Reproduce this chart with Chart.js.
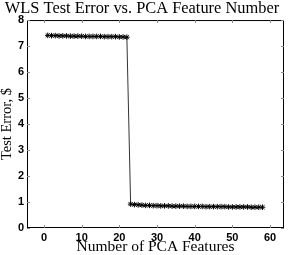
<!DOCTYPE html>
<html>
<head>
<meta charset="utf-8">
<script src="https://cdn.jsdelivr.net/npm/chart.js@4"></script>
<style>
  html, body { margin: 0; padding: 0; background: #fff; }
  #wrap { width: 291px; height: 255px; }
</style>
</head>
<body>
<div id="wrap"><canvas id="myChart"></canvas></div>
<script>
// data
const featureCounts = [];
for (let n = 1; n <= 58; n++) featureCounts.push(n);

const testErrors = [
  7.41, 7.40, 7.40, 7.39, 7.39, 7.39, 7.38, 7.38, 7.38, 7.38,
  7.37, 7.37, 7.37, 7.37, 7.37, 7.36, 7.36, 7.36, 7.36, 7.35,
  7.35, 7.34,
  0.92, 0.90, 0.89, 0.88, 0.87, 0.87, 0.86, 0.86, 0.85, 0.85,
  0.85, 0.84, 0.84, 0.84, 0.84, 0.83, 0.83, 0.83, 0.83, 0.83,
  0.82, 0.82, 0.82, 0.82, 0.82, 0.82, 0.81, 0.81, 0.81, 0.81,
  0.81, 0.81, 0.80, 0.80, 0.80, 0.80
];

const xTicks = [0, 10, 20, 30, 40, 50, 60];
const yTicks = [0, 1, 2, 3, 4, 5, 6, 7, 8];

const serif = '"Liberation Serif", "DejaVu Serif", serif';
const sans = '"Liberation Sans", Arial, sans-serif';

// box round the plot and matlab style inward ticks
const boxPlugin = {
  id: 'box',
  afterDraw(chart) {
    const ctx = chart.ctx;
    const a = chart.chartArea;
    const xs = chart.scales.x;
    const ys = chart.scales.y;
    ctx.save();
    ctx.strokeStyle = '#000';
    ctx.lineWidth = 1;
    ctx.strokeRect(a.left + 0.5, a.top + 0.5, a.right - a.left - 1, a.bottom - a.top - 1);
    ctx.strokeStyle = '#888';
    ctx.beginPath();
    xTicks.forEach(function (t) {
      const px = Math.round(xs.getPixelForValue(t)) + 0.5;
      ctx.moveTo(px, a.bottom); ctx.lineTo(px, a.bottom - 3);
      ctx.moveTo(px, a.top); ctx.lineTo(px, a.top + 3);
    });
    yTicks.forEach(function (t) {
      const py = Math.round(ys.getPixelForValue(t)) + 0.5;
      ctx.moveTo(a.left, py); ctx.lineTo(a.left + 3, py);
      ctx.moveTo(a.right, py); ctx.lineTo(a.right - 3, py);
    });
    ctx.stroke();
    ctx.restore();
  }
};

function initializeChart() {
  const ctx = document.getElementById('myChart').getContext('2d');
  const points = featureCounts.map(function (n, i) { return { x: n, y: testErrors[i] }; });

  return new Chart(ctx, {
    type: 'line',
    data: {
      datasets: [{
        label: 'Test Error',
        data: points,
        borderColor: '#333',
        borderWidth: 1,
        backgroundColor: 'transparent',
        pointStyle: 'star',
        pointRadius: 2.8,
        pointBorderColor: '#000',
        pointBorderWidth: 1,
        tension: 0
      }]
    },
    options: {
      responsive: true,
      maintainAspectRatio: false,
      animation: false,
      layout: { padding: { left: 0, right: 7, top: 0, bottom: 0 } },
      plugins: {
        legend: { display: false },
        tooltip: { enabled: false },
        title: {
          display: true,
          text: 'WLS Test Error vs. PCA Feature Number',
          color: '#000',
          font: { family: serif, size: 16.4, weight: 'normal', lineHeight: 1.1 },
          padding: { top: 0, bottom: 2 }
        }
      },
      scales: {
        x: {
          type: 'linear',
          min: -4.5,
          max: 63.7,
          afterBuildTicks: function (s) { s.ticks = xTicks.map(function (v) { return { value: v }; }); },
          afterFit: function (s) { s.height = 27; },
          grid: { display: false, drawTicks: false },
          border: { display: false },
          ticks: {
            color: '#000',
            padding: 3,
            maxRotation: 0,
            font: { family: sans, size: 11, weight: 'bold' }
          },
          title: {
            display: true,
            text: 'Number of PCA Features',
            color: '#000',
            font: { family: serif, size: 15.5, lineHeight: 1 },
            padding: { top: 0, bottom: 0 }
          }
        },
        y: {
          min: 0,
          max: 8,
          afterBuildTicks: function (s) { s.ticks = yTicks.map(function (v) { return { value: v }; }); },
          afterFit: function (s) { s.width = 27; },
          grid: { display: false, drawTicks: false },
          border: { display: false },
          ticks: {
            color: '#000',
            padding: 3,
            font: { family: sans, size: 11, weight: 'bold' }
          },
          title: {
            display: true,
            text: 'Test Error, $',
            color: '#000',
            font: { family: serif, size: 14.5, lineHeight: 1 },
            padding: { top: 0, bottom: 2 }
          }
        }
      }
    },
    plugins: [boxPlugin]
  });
}

let myChart = initializeChart();
</script>
</body>
</html>
